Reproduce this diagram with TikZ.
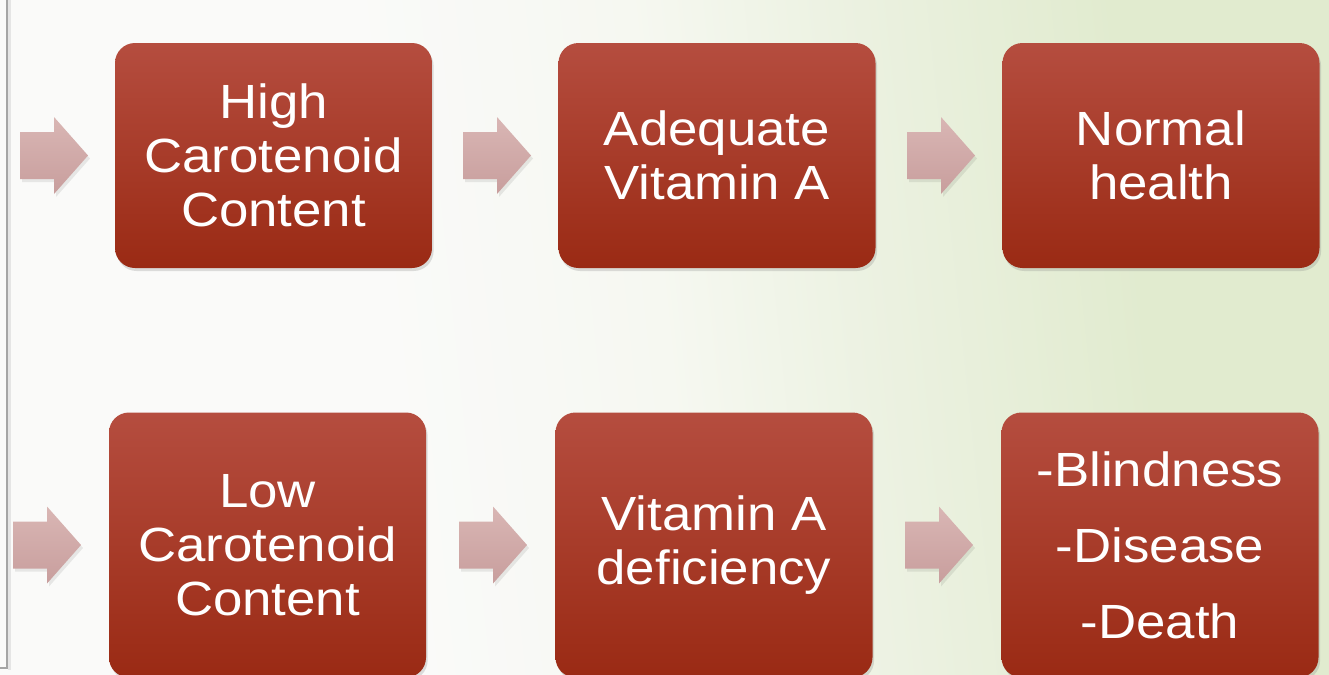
\documentclass[tikz,border=0pt]{standalone}
\usepackage{fontspec}
\setmainfont{Liberation Sans}[FakeStretch=1.1]
\usetikzlibrary{shadows}

\definecolor{boxtop}{RGB}{181,77,63}
\definecolor{boxbot}{RGB}{154,42,20}
\definecolor{arrtop}{RGB}{217,182,180}
\definecolor{arrbot}{RGB}{200,158,157}
\definecolor{bgleft}{RGB}{250,250,249}
\definecolor{bgmid}{RGB}{246,248,241}
\definecolor{bgright}{RGB}{225,235,207}
\definecolor{framegray}{RGB}{165,165,165}

% soft white-to-green wash (the middle 50bp span the page width)
\pgfdeclarehorizontalshading{slidewash}{100bp}{%
  color(0bp)=(bgleft); color(39bp)=(bgleft); color(50bp)=(bgmid);
  color(58bp)=(bgright!55!bgleft); color(69bp)=(bgright); color(100bp)=(bgright)}

\begin{document}
\begin{tikzpicture}[x=0.5pt,y=-0.5pt,
  stagebox/.style={rounded corners=10pt, top color=boxtop, bottom color=boxbot,
    text=white, align=center, inner sep=0pt, minimum width=158.5pt,
    font=\fontsize{24}{27}\selectfont,
    drop shadow={opacity=0.25, shadow xshift=0.8pt, shadow yshift=-1.5pt}},
  toprow/.style={minimum height=112.5pt},
  botrow/.style={minimum height=132.5pt},
  blockarrow/.pic={
    \fill[black, opacity=0.08, shift={(2,3)}]
      (0,-23.5) -- (34,-23.5) -- (34,-38.5) -- (68,0) -- (34,38.5) -- (34,23.5) -- (0,23.5) -- cycle;
    \shade[top color=arrtop, bottom color=arrbot]
      (0,-23.5) -- (34,-23.5) -- (34,-38.5) -- (68,0) -- (34,38.5) -- (34,23.5) -- (0,23.5) -- cycle;
  }
]
\useasboundingbox (0,0) rectangle (1329,675);
\clip (0,0) rectangle (1329,675);

% background
\shade[shading=slidewash, shading angle=6] (0,0) rectangle (1329,675);

% frame edge on the left
\draw[black!10, line width=1.5pt] (9,0) -- (9,670);
\draw[framegray, line width=1pt] (7,0) -- (7,668) -- (0,668);

% top row
\pic (ta1) at (20,155.5) {blockarrow};
\node[stagebox, toprow] (high) at (273.5,155.5) {High\\Carotenoid\\Content};
\pic (ta2) at (463,155.5) {blockarrow};
\node[stagebox, toprow] (adequate) at (717,155.5) {Adequate\\Vitamin A};
\pic (ta3) at (907,155.5) {blockarrow};
\node[stagebox, toprow] (normal) at (1161,155.5) {Normal\\health};

% bottom row
\pic (ba1) at (13,545) {blockarrow};
\node[stagebox, botrow] (low) at (267.5,545) {Low\\Carotenoid\\Content};
\pic (ba2) at (459,545) {blockarrow};
\node[stagebox, botrow] (deficiency) at (714,545) {Vitamin A\\deficiency};
\pic (ba3) at (905,545) {blockarrow};
\node[stagebox, botrow] (outcomes) at (1160,545) {-Blindness\\[11pt]-Disease\\[11pt]-Death};
\end{tikzpicture}
\end{document}
